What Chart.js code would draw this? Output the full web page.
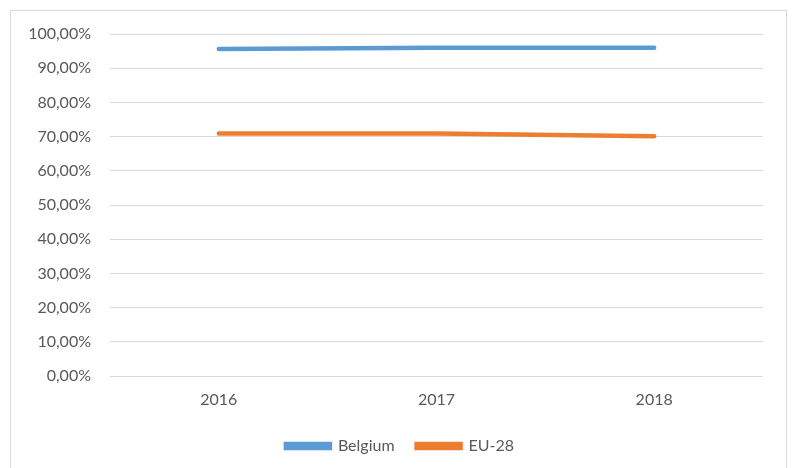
<!DOCTYPE html>
<html>
<head>
<meta charset="utf-8">
<script src="https://cdn.jsdelivr.net/npm/chart.js@4/dist/chart.umd.min.js"></script>
<style>
  html, body { margin: 0; padding: 0; background: #ffffff; }
  #wrap { width: 792px; height: 468px; position: relative; }
</style>
</head>
<body>
<div id="wrap"><canvas id="c" width="792" height="468"></canvas></div>
<script>
const categories = ['2016', '2017', '2018'];
const belgium = [95.6, 96.0, 96.0];
const eu28 = [70.9, 70.9, 70.1];
const yTicks = [0, 10, 20, 30, 40, 50, 60, 70, 80, 90, 100];

const frame = {
  id: 'frame',
  afterLayout(chart) {
    // centre the legend under the whole frame, as in the reference
    if (chart.legend) { chart.legend.left = 37; }
  },
  beforeDraw(chart) {
    const ctx = chart.ctx;
    ctx.save();
    ctx.fillStyle = '#ffffff';
    ctx.fillRect(0, 0, chart.width, chart.height);
    ctx.strokeStyle = '#D9D9D9';
    ctx.lineWidth = 1;
    ctx.strokeRect(10.5, 10.5, 776, 470);
    ctx.restore();
  }
};

Chart.defaults.font.family = 'Lato, "Open Sans", sans-serif';
Chart.defaults.font.size = 16;
Chart.defaults.color = '#595959';

new Chart(document.getElementById('c'), {
  type: 'line',
  data: {
    labels: categories,
    datasets: [
      { label: 'Belgium', data: belgium, borderColor: '#5B9BD5', backgroundColor: '#5B9BD5',
        borderWidth: 4.5, pointRadius: 0, tension: 0, borderCapStyle: 'round' },
      { label: 'EU-28', data: eu28, borderColor: '#ED7D31', backgroundColor: '#ED7D31',
        borderWidth: 4.5, pointRadius: 0, tension: 0, borderCapStyle: 'round' }
    ]
  },
  options: {
    responsive: false,
    animation: false,
    layout: { padding: { left: 0, right: 29, top: 34, bottom: 4 } },
    plugins: {
      legend: {
        position: 'bottom',
        labels: { boxWidth: 44, boxHeight: 4, padding: 22, color: '#595959', font: { size: 16 } }
      },
      tooltip: { enabled: false }
    },
    scales: {
      x: {
        offset: true,
        grid: { display: false, drawTicks: false },
        border: { display: false },
        ticks: { padding: 14, color: '#595959' },
        afterFit(scale) { scale.height = 40; }
      },
      y: {
        min: 0, max: 100,
        afterBuildTicks(scale) { scale.ticks = yTicks.map(v => ({ value: v })); },
        grid: { color: '#D9D9D9', lineWidth: 1, drawTicks: false },
        border: { display: false },
        ticks: {
          padding: 19, color: '#595959',
          callback: v => v.toFixed(2).replace('.', ',') + '%'
        },
        afterFit(scale) { scale.width = 110; }
      }
    }
  },
  plugins: [frame]
});
</script>
</body>
</html>
